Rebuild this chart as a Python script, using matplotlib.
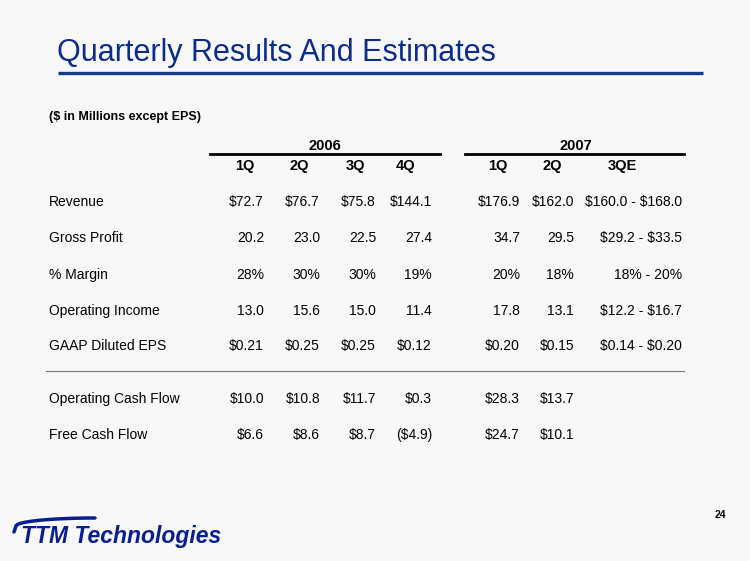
import numpy as np
import matplotlib
matplotlib.use("Agg")
import matplotlib.pyplot as plt

plt.rcParams['font.family'] = ['Liberation Sans', 'DejaVu Sans']
plt.rcParams['text.parse_math'] = False

years = ["2006", "2007"]
quarters = ["1Q", "2Q", "3Q", "4Q", "1Q", "2Q", "3QE"]
row_labels = ["Revenue", "Gross Profit", "% Margin", "Operating Income",
              "GAAP Diluted EPS", "Operating Cash Flow", "Free Cash Flow"]
revenue = ["$72.7", "$76.7", "$75.8", "$144.1", "$176.9", "$162.0", "$160.0 - $168.0"]
gross_profit = ["20.2", "23.0", "22.5", "27.4", "34.7", "29.5", "$29.2 - $33.5"]
margin = ["28%", "30%", "30%", "19%", "20%", "18%", "18% - 20%"]
op_income = ["13.0", "15.6", "15.0", "11.4", "17.8", "13.1", "$12.2 - $16.7"]
eps = ["$0.21", "$0.25", "$0.25", "$0.12", "$0.20", "$0.15", "$0.14 - $0.20"]
op_cash = ["$10.0", "$10.8", "$11.7", "$0.3", "$28.3", "$13.7", ""]
free_cash = ["$6.6", "$8.6", "$8.7", "($4.9)", "$24.7", "$10.1", ""]
rows = [revenue, gross_profit, margin, op_income, eps, op_cash, free_cash]

# layout (pixels)
col_right = [264, 320, 376, 432, 520, 574, 682]
col_head = [245, 299, 355, 406, 498, 552, 622]
row_y = [202, 238, 275, 311, 346, 399, 435]

fig = plt.figure(figsize=(7.5, 5.61), dpi=100)
fig.patch.set_facecolor("#F8F8F8")
ax = fig.add_axes([0, 0, 1, 1])
ax.set_xlim(0, 750)
ax.set_ylim(561, 0)
ax.axis("off")

navy = "#0B2C8A"
ax.text(57, 61, "Quarterly Results And Estimates", fontsize=22, color=navy, va="baseline")
ax.plot([58, 703], [73, 73], color="#173A8C", lw=2.4, solid_capstyle="butt")

ax.text(49, 117, "($ in Millions except EPS)", fontsize=9, fontweight="bold", va="center")

# year headers
ax.text(325, 146, years[0], fontsize=10.5, fontweight="bold", ha="center", va="center")
ax.text(576, 146, years[1], fontsize=10.5, fontweight="bold", ha="center", va="center")
ax.plot([210, 440], [154, 154], color="black", lw=2)
ax.plot([465, 684], [154, 154], color="black", lw=2)

for q, x in zip(quarters, col_head):
    ax.text(x, 166, q, fontsize=10.5, fontweight="bold", ha="center", va="center")

for lab, vals, y in zip(row_labels, rows, row_y):
    ax.text(49, y, lab, fontsize=10, va="center")
    for v, x in zip(vals, col_right):
        ax.text(x, y, v, fontsize=10, ha="right", va="center")

ax.plot([46, 684], [371, 371], color="#777777", lw=0.8)

# footer
ax.text(726, 515, "24", fontsize=7.5, fontweight="bold", ha="right", va="center")
arc_x = np.linspace(16, 95, 60)
arc_y = 526 - 8 * np.sqrt(np.clip(1 - ((arc_x - 95) / 79) ** 2, 0, 1))
ax.plot(arc_x, arc_y, color="#0A1F8F", lw=2.5, solid_capstyle="round")
ax.plot([16, 14], [526, 532], color="#0A1F8F", lw=2.5, solid_capstyle="round")
ax.text(21, 536, "TTM Technologies", fontsize=16.5, fontweight="bold", fontstyle="italic",
        color="#0A1F8F", va="center")

fig.savefig("out.png", dpi=100, facecolor=fig.get_facecolor())
